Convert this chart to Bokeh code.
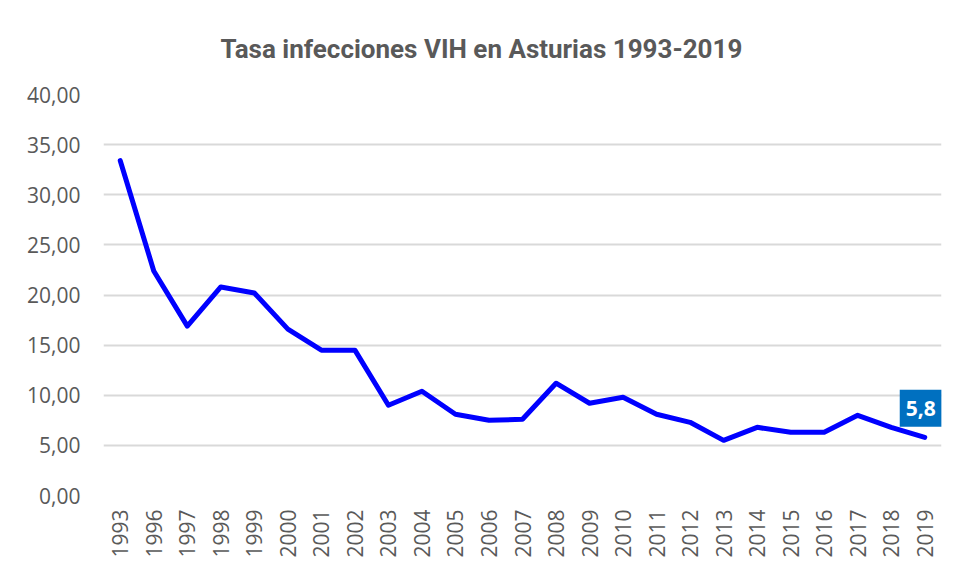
from bokeh.plotting import figure
from bokeh.models import (FactorRange, Range1d, FixedTicker, CustomJSTickFormatter,
                          Label, ColumnDataSource)
from bokeh.embed import file_html
from bokeh.resources import INLINE
import math

# ---- data ----
years = ["1993", "1996", "1997", "1998", "1999", "2000", "2001", "2002", "2003",
         "2004", "2005", "2006", "2007", "2008", "2009", "2010", "2011", "2012",
         "2013", "2014", "2015", "2016", "2017", "2018", "2019"]
rates = [33.4, 22.4, 16.9, 20.8, 20.2, 16.6, 14.5, 14.5, 9.0,
         10.4, 8.1, 7.5, 7.6, 11.2, 9.2, 9.8, 8.1, 7.3,
         5.5, 6.8, 6.3, 6.3, 8.0, 6.8, 5.8]
y_ticks = [0, 5, 10, 15, 20, 25, 30, 35, 40]
last_label = "5,8"
title_text = "Tasa infecciones VIH en Asturias 1993-2019"

GREY = "#595959"

p = figure(width=950, height=565, output_backend="svg", toolbar_location=None,
           x_range=FactorRange(factors=years, range_padding=0),
           y_range=Range1d(y_ticks[0], y_ticks[-1]),
           min_border_left=103, min_border_right=9, min_border_top=94,
           min_border_bottom=70)

p.title.text = title_text
p.title.text_font = "Roboto"
p.title.text_font_size = "26px"
p.title.text_font_style = "bold"
p.title.text_color = GREY
p.title.align = "left"
p.title.offset = 117
p.title.standoff = 61

p.outline_line_color = None
p.background_fill_color = "white"
p.border_fill_color = "white"

src = ColumnDataSource(dict(year=years, rate=rates))
p.line(x="year", y="rate", source=src, line_color="#0000FF", line_width=5,
       line_join="round", line_cap="round")

# axes
p.yaxis.ticker = FixedTicker(ticks=y_ticks)
p.yaxis.formatter = CustomJSTickFormatter(code="return tick.toFixed(2).replace('.', ',');")
for ax in (p.xaxis[0], p.yaxis[0]):
    ax.axis_line_color = None
    ax.major_tick_line_color = None
    ax.minor_tick_line_color = None
    ax.major_label_text_color = GREY
    ax.major_label_text_font = "Open Sans"
    ax.major_label_text_font_size = "21px"
p.yaxis.major_label_standoff = 17
p.xaxis.major_label_orientation = math.pi / 2
p.xaxis.major_label_standoff = 8

p.xgrid.grid_line_color = None
p.ygrid.grid_line_color = "#D9D9D9"
p.ygrid.grid_line_width = 2
p.ygrid.ticker = FixedTicker(ticks=y_ticks)

# synthetic categorical coordinate of the last factor (centre of its band)
last_x = years.index(years[-1]) + 0.5
lab = Label(x=last_x, y=rates[-1], text=last_label, x_offset=-4, y_offset=29,
            text_align="center", text_baseline="middle",
            text_color="white", text_font="Open Sans", text_font_style="bold",
            text_font_size="21px", background_fill_color="#0070C0",
            padding=(6, 11))
p.add_layout(lab)

open("out.html", "w").write(file_html(p, INLINE))
